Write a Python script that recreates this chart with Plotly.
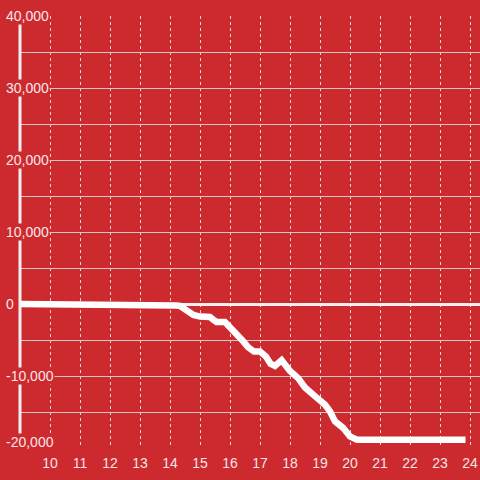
import plotly.graph_objects as go

# data (hour of day, cumulative value)
hours = [9.0, 10.8, 11.0, 14.2, 14.33, 14.56, 14.78, 15.0, 15.33, 15.45, 15.55, 15.83,
         16.0, 16.2, 16.4, 16.6, 16.8, 17.0, 17.2, 17.35, 17.5, 17.72, 17.85, 18.0,
         18.27, 18.5, 18.83, 19.0, 19.17, 19.33, 19.5, 19.77, 20.0, 20.23, 20.5, 23.85]
values = [0, 0, -200, -200, -250, -830, -1530, -1750, -1800, -2200, -2500, -2500,
          -3200, -4000, -5000, -6000, -6600, -6600, -7300, -8300, -8600, -7800, -8600, -9300,
          -10300, -11600, -12800, -13400, -14000, -14900, -16300, -17200, -18400, -18850, -18850, -18850]

x_ticks = list(range(10, 25))
x_tick_labels = [str(v) for v in x_ticks]
y_label_vals = [40000, 30000, 20000, 10000, 0, -10000, -20000]
y_grid_vals = list(range(-20000, 40001, 5000))

RED = "#cc2a2f"
TXT = "#f8e6e6"
FONT = "Liberation Sans, Arial, sans-serif"

fig = go.Figure()
fig.add_trace(go.Scatter(x=hours, y=values, mode="lines",
                         line=dict(color="white", width=6.5), hoverinfo="skip",
                         showlegend=False))

fig.update_layout(
    width=480, height=480,
    margin=dict(l=20, r=0, t=16, b=32),
    paper_bgcolor=RED, plot_bgcolor=RED,
    font=dict(family=FONT, size=14, color=TXT),
    xaxis=dict(range=[9, 24 + 1/3], tickvals=x_ticks, ticktext=x_tick_labels,
               showgrid=True, gridcolor="#e0d8d8", gridwidth=1, griddash="3px,3px",
               zeroline=False, showline=False, ticks="", fixedrange=True,
               ticklabelstandoff=5,
               tickfont=dict(family=FONT, size=14, color=TXT)),
    yaxis=dict(range=[-20000, 40000], tickvals=y_grid_vals, showticklabels=False,
               showgrid=True, gridcolor="#d0c8c8", gridwidth=1,
               zeroline=True, zerolinecolor="#f4f0f0", zerolinewidth=3,
               showline=False, ticks="", fixedrange=True),
    shapes=[dict(type="line", xref="paper", yref="y", x0=0, x1=0,
                 y0=-20000, y1=40000, line=dict(color="#f4f0f0", width=3),
                 layer="above")],
)

for v in y_label_vals:
    fig.add_annotation(
        x=-15 / 460, xref="paper", y=v, yref="y",
        text=f"{v:,}", showarrow=False, xanchor="left", yanchor="middle",
        yshift=6 if v == -20000 else 0,
        bgcolor=RED, borderpad=0,
        font=dict(family=FONT, size=14, color=TXT),
    )

fig.write_html("out.html", config={"displayModeBar": False},
               post_script="document.body.style.margin='0';document.body.style.overflow='hidden';")
